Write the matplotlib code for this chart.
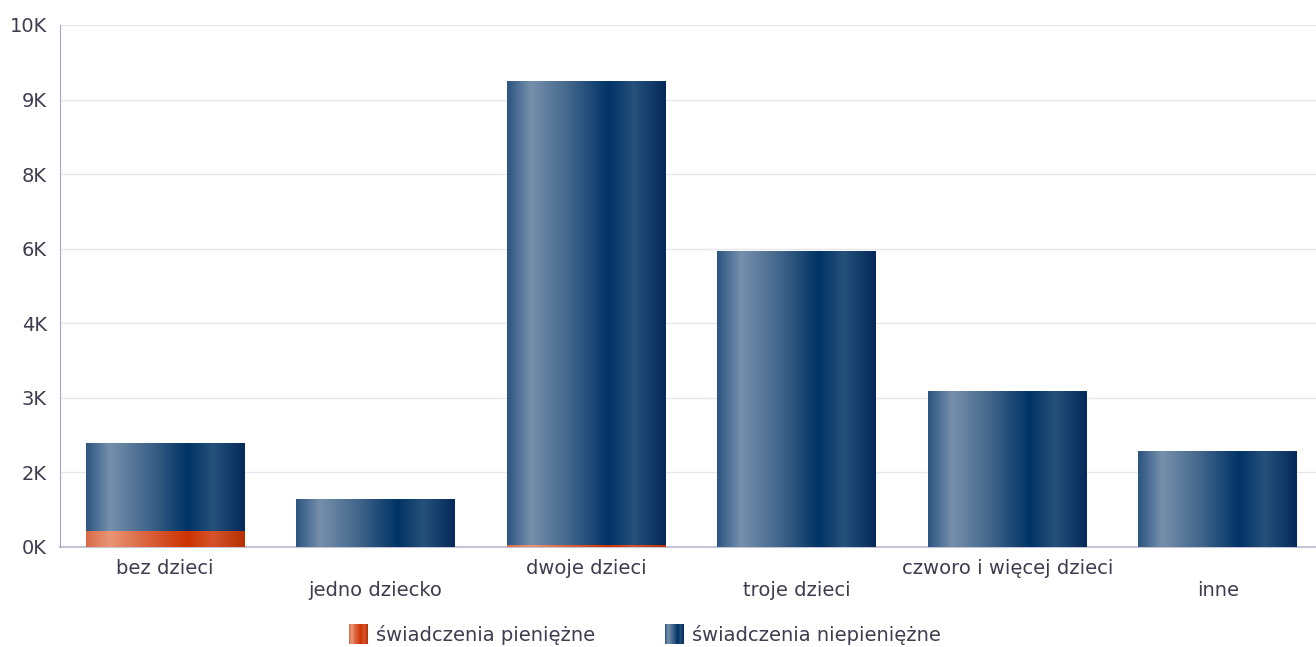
import numpy as np
import matplotlib.pyplot as plt
import matplotlib.transforms as mtransforms
from matplotlib.colors import LinearSegmentedColormap
from matplotlib.patches import Patch, Rectangle
from matplotlib.legend_handler import HandlerBase

categories = ['bez dzieci', 'jedno dziecko', 'dwoje dzieci', 'troje dzieci',
              'czworo i więcej dzieci', 'inne']
pieniezne = [320, 0, 50, 0, 0, 0]
niepieniezne = [1770, 966, 9320, 5955, 3138, 1931]
series_names = ['świadczenia pieniężne', 'świadczenia niepieniężne']

yticks = np.arange(0, 10501, 1500)

blue_stops = [(0.0, '#2c5582'), (0.15, '#7690ac'), (0.4, '#40648a'),
              (0.64, '#003366'), (0.8, '#26517b'), (1.0, '#04295a')]
orange_stops = [(0.0, '#d96b48'), (0.15, '#e89575'), (0.4, '#d9603a'),
                (0.64, '#cc3300'), (0.8, '#d5532c'), (1.0, '#b63000')]
blue_cmap = LinearSegmentedColormap.from_list('blue', blue_stops)
orange_cmap = LinearSegmentedColormap.from_list('orange', orange_stops)

text_col = '#3d3d4f'
plt.rcParams['font.family'] = 'DejaVu Sans'


class GradientHandler(HandlerBase):
    def __init__(self, cmap):
        super().__init__()
        self.cmap = cmap

    def create_artists(self, legend, orig_handle, xdescent, ydescent,
                       width, height, fontsize, trans):
        n = 20
        arts = []
        for i in range(n):
            r = Rectangle((-xdescent + width * i / n, -ydescent - 1), width / n * 1.05,
                          height + 2, facecolor=self.cmap((i + 0.5) / n),
                          edgecolor='none', transform=trans)
            arts.append(r)
        return arts


fig = plt.figure(figsize=(13.16, 6.47), dpi=100)
ax = fig.add_axes([60 / 1316, 100 / 647, 1256 / 1316, 522 / 647])

x = np.arange(len(categories))
w = 0.755
bars_o = ax.bar(x, pieniezne, w, color='none')
bars_b = ax.bar(x, niepieniezne, w, bottom=pieniezne, color='none')

grad = np.linspace(0, 1, 256).reshape(1, -1)
for bars, cmap in ((bars_o, orange_cmap), (bars_b, blue_cmap)):
    for p in bars:
        if p.get_height() <= 0:
            continue
        x0, y0 = p.get_x(), p.get_y()
        im = ax.imshow(grad, cmap=cmap, aspect='auto', interpolation='bilinear',
                       extent=(x0, x0 + p.get_width(), y0, y0 + p.get_height()),
                       zorder=2)
        im.set_clip_path(p)

ax.set_xlim(-0.5, 5.467)
ax.set_ylim(0, 10500)
ax.set_yticks(yticks)
ax.set_yticklabels([f'{round(v / 1000)}K' for v in yticks])
ax.grid(axis='y', color='#e6e6ee', linewidth=1)
ax.set_axisbelow(True)

for s in ['top', 'right']:
    ax.spines[s].set_visible(False)
ax.spines['left'].set_color('#a8a8c4')
ax.spines['bottom'].set_color('#c4c4d4')
ax.spines['bottom'].set_linewidth(1.5)
ax.spines['bottom'].set_zorder(1)

ax.set_xticks(x)
ax.set_xticklabels(categories)
ax.tick_params(axis='x', length=0, pad=9, labelsize=14, labelcolor=text_col)
ax.tick_params(axis='y', length=0, pad=9.5, labelsize=14, labelcolor=text_col)
for i, lab in enumerate(ax.get_xticklabels()):
    if i % 2 == 1:
        lab.set_transform(lab.get_transform() +
                          mtransforms.ScaledTranslation(0, -22 / 100, fig.dpi_scale_trans))

h_o = Patch(color='#cc3300')
h_b = Patch(color='#003366')
fig.legend([h_o, h_b], series_names, loc='center', bbox_to_anchor=(0.49, 1 - 635 / 647),
           ncol=2, frameon=False, fontsize=14, labelcolor=text_col,
           handlelength=1.0, handleheight=1.0, handletextpad=0.4, columnspacing=3.6,
           handler_map={h_o: GradientHandler(orange_cmap), h_b: GradientHandler(blue_cmap)})

fig.savefig('out.png', dpi=100)
